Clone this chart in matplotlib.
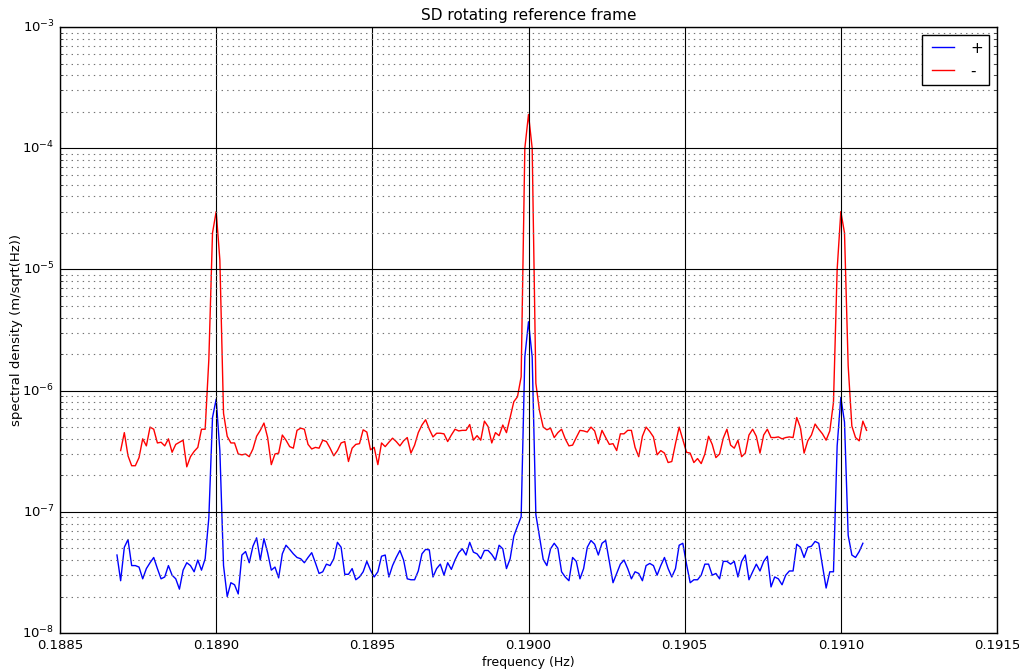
import numpy as np
import matplotlib
matplotlib.use('Agg')
import matplotlib.pyplot as plt

# frequency grid: bin spacing 1/85000 Hz, first bin of the '+' trace
f_first = 0.189 - 27 / 85000.0
df = 1 / 85000.0

# '+' rotating component (m/sqrt(Hz)), bins 0..203
sd_plus = [
    4.4e-8, 2.7e-8, 5.1e-8, 5.9e-8, 3.6e-8, 3.6e-8, 3.5e-8, 2.8e-8, 3.4e-8, 3.8e-8,
    4.2e-8, 3.4e-8, 2.8e-8, 2.9e-8, 3.6e-8, 3.0e-8, 2.8e-8, 2.3e-8, 3.3e-8, 3.8e-8,
    3.6e-8, 3.2e-8, 4.0e-8, 3.3e-8, 4.1e-8, 8.9e-8, 6.0e-7, 8.5e-7, 3.2e-7, 3.6e-8,
    2.0e-8, 2.6e-8, 2.5e-8, 2.1e-8, 4.4e-8, 4.7e-8, 3.8e-8, 5.2e-8, 6.1e-8, 4.0e-8,
    6.0e-8, 4.6e-8, 3.3e-8, 3.5e-8, 2.85e-8, 4.5e-8, 5.3e-8, 4.9e-8, 4.5e-8, 4.2e-8,
    4.1e-8, 3.8e-8, 4.2e-8, 4.6e-8, 3.8e-8, 3.1e-8, 3.2e-8, 3.7e-8, 3.6e-8, 4.1e-8,
    5.6e-8, 5.1e-8, 3.05e-8, 3.05e-8, 3.4e-8, 2.75e-8, 2.9e-8, 3.2e-8, 3.9e-8, 3.3e-8,
    2.9e-8, 3.2e-8, 4.3e-8, 4.4e-8, 2.9e-8, 3.6e-8, 4.2e-8, 4.8e-8, 4.0e-8, 2.8e-8,
    2.75e-8, 2.75e-8, 3.25e-8, 4.5e-8, 4.9e-8, 4.85e-8, 2.9e-8, 3.4e-8, 3.7e-8, 3.0e-8,
    3.8e-8, 3.35e-8, 4.0e-8, 4.6e-8, 4.95e-8, 4.4e-8, 5.6e-8, 4.65e-8, 4.5e-8, 4.1e-8,
    4.8e-8, 4.8e-8, 4.45e-8, 4.0e-8, 5.3e-8, 4.95e-8, 3.4e-8, 4.1e-8, 6.3e-8, 7.6e-8,
    9.1e-8, 1.9e-6, 3.7e-6, 1.9e-6, 9.5e-8, 6.2e-8, 4.05e-8, 3.6e-8, 4.95e-8, 5.5e-8,
    5.0e-8, 3.2e-8, 2.9e-8, 2.7e-8, 4.2e-8, 3.9e-8, 2.8e-8, 3.4e-8, 5.1e-8, 5.8e-8,
    5.4e-8, 4.4e-8, 5.5e-8, 5.8e-8, 3.9e-8, 2.6e-8, 3.1e-8, 3.7e-8, 4.0e-8, 3.4e-8,
    2.8e-8, 3.2e-8, 3.1e-8, 2.7e-8, 3.6e-8, 3.75e-8, 3.6e-8, 3.0e-8, 3.6e-8, 4.2e-8,
    3.4e-8, 2.9e-8, 3.4e-8, 5.3e-8, 5.5e-8, 3.7e-8, 2.6e-8, 2.75e-8, 2.75e-8, 3.0e-8,
    3.7e-8, 3.7e-8, 3.0e-8, 3.1e-8, 2.8e-8, 3.9e-8, 3.9e-8, 3.7e-8, 3.9e-8, 2.9e-8,
    3.9e-8, 4.4e-8, 2.75e-8, 3.2e-8, 3.7e-8, 3.25e-8, 3.9e-8, 4.3e-8, 2.4e-8, 2.9e-8,
    2.8e-8, 2.5e-8, 3.0e-8, 3.25e-8, 3.25e-8, 5.4e-8, 5.1e-8, 4.2e-8, 5.1e-8, 5.2e-8,
    5.7e-8, 5.5e-8, 3.6e-8, 2.35e-8, 3.2e-8, 3.2e-8, 3.5e-7, 8.8e-7, 5.5e-7, 6.4e-8,
    4.4e-8, 4.2e-8, 4.7e-8, 5.5e-8,
]

# '-' rotating component (m/sqrt(Hz)), bins 1..204
sd_minus = [
    3.2e-7, 4.5e-7, 2.9e-7, 2.4e-7, 2.4e-7, 2.8e-7, 4.0e-7, 3.5e-7, 5.0e-7, 4.8e-7,
    3.7e-7, 3.75e-7, 3.5e-7, 4.0e-7, 3.1e-7, 3.6e-7, 3.75e-7, 3.9e-7, 2.35e-7, 2.85e-7,
    3.15e-7, 3.4e-7, 4.8e-7, 4.8e-7, 1.8e-6, 2.0e-5, 3.0e-5, 1.2e-5, 6.5e-7, 4.2e-7,
    3.7e-7, 3.7e-7, 3.0e-7, 2.95e-7, 3.0e-7, 2.85e-7, 3.3e-7, 4.2e-7, 4.7e-7, 5.4e-7,
    4.1e-7, 2.45e-7, 3.0e-7, 3.05e-7, 4.3e-7, 3.9e-7, 3.45e-7, 3.35e-7, 4.7e-7, 4.9e-7,
    4.8e-7, 3.6e-7, 3.3e-7, 3.4e-7, 3.35e-7, 3.9e-7, 3.8e-7, 3.35e-7, 2.9e-7, 3.2e-7,
    3.7e-7, 3.8e-7, 2.6e-7, 3.35e-7, 3.6e-7, 3.65e-7, 4.75e-7, 4.55e-7, 3.25e-7, 3.4e-7,
    2.45e-7, 3.7e-7, 3.45e-7, 3.75e-7, 4.05e-7, 3.8e-7, 3.5e-7, 3.85e-7, 4.1e-7, 3.05e-7,
    3.55e-7, 4.5e-7, 5.2e-7, 5.75e-7, 4.8e-7, 4.15e-7, 4.45e-7, 4.45e-7, 4.4e-7, 3.8e-7,
    4.3e-7, 4.8e-7, 4.65e-7, 4.7e-7, 4.7e-7, 5.25e-7, 3.9e-7, 4.25e-7, 3.9e-7, 5.6e-7,
    5.05e-7, 3.7e-7, 4.5e-7, 4.25e-7, 5.2e-7, 4.5e-7, 6.0e-7, 8.1e-7, 8.9e-7, 1.3e-6,
    1.0e-4, 1.9e-4, 1.0e-4, 1.15e-6, 6.8e-7, 5.0e-7, 4.75e-7, 4.9e-7, 4.1e-7, 4.5e-7,
    4.8e-7, 4.0e-7, 3.5e-7, 3.55e-7, 4.1e-7, 4.7e-7, 4.65e-7, 4.55e-7, 5.0e-7, 4.65e-7,
    3.65e-7, 4.7e-7, 4.1e-7, 3.6e-7, 3.65e-7, 3.2e-7, 4.4e-7, 4.4e-7, 4.7e-7, 4.7e-7,
    3.4e-7, 2.85e-7, 4.2e-7, 5.0e-7, 4.6e-7, 4.15e-7, 2.95e-7, 3.2e-7, 3.05e-7, 2.55e-7,
    2.6e-7, 3.65e-7, 5.0e-7, 3.95e-7, 3.1e-7, 3.05e-7, 2.55e-7, 2.75e-7, 2.5e-7, 3.0e-7,
    4.2e-7, 3.6e-7, 2.8e-7, 3.0e-7, 4.05e-7, 4.8e-7, 3.55e-7, 3.35e-7, 3.9e-7, 2.85e-7,
    3.05e-7, 4.3e-7, 4.8e-7, 4.2e-7, 3.05e-7, 4.3e-7, 4.8e-7, 4.1e-7, 4.1e-7, 4.15e-7,
    4.0e-7, 4.1e-7, 4.15e-7, 4.1e-7, 6.0e-7, 4.95e-7, 3.05e-7, 3.85e-7, 4.3e-7, 5.3e-7,
    4.8e-7, 4.4e-7, 3.9e-7, 4.65e-7, 8.0e-7, 1.0e-5, 3.0e-5, 2.0e-5, 1.6e-6, 5.1e-7,
    4.1e-7, 3.85e-7, 5.6e-7, 4.7e-7,
]

xticks = [0.1885, 0.1890, 0.1895, 0.1900, 0.1905, 0.1910, 0.1915]

plt.style.use('classic')
plt.rcParams['axes.unicode_minus'] = False

freq_plus = f_first + df * np.arange(len(sd_plus))
freq_minus = f_first + df * (1 + np.arange(len(sd_minus)))

fig = plt.figure(figsize=(10.19, 6.69), dpi=100)
ax = fig.add_axes([0.0589, 0.0538, 0.9195, 0.9058])

ax.semilogy(freq_plus, sd_plus, 'b-', label='+')
ax.semilogy(freq_minus, sd_minus, 'r-', label='-')

ax.set_xlim(0.1885, 0.1915)
ax.set_ylim(1e-8, 1e-3)
ax.set_xticks(xticks)
ax.set_xticklabels(['%.4f' % t for t in xticks])

ax.grid(True, which='major', linestyle='-', color='k', linewidth=0.8)
ax.grid(True, which='minor', axis='y', linestyle=':', color='0.45', linewidth=0.8)

ax.set_title('SD rotating reference frame', fontsize=11)
ax.set_xlabel('frequency (Hz)', fontsize=9, labelpad=3)
ax.set_ylabel('spectral density (m/sqrt(Hz))', fontsize=9.5)
ax.yaxis.set_label_coords(-0.039, 0.5)
ax.tick_params(labelsize=9.5)

ax.legend(loc='upper right', fontsize=11)

fig.savefig('out.png', dpi=100)
